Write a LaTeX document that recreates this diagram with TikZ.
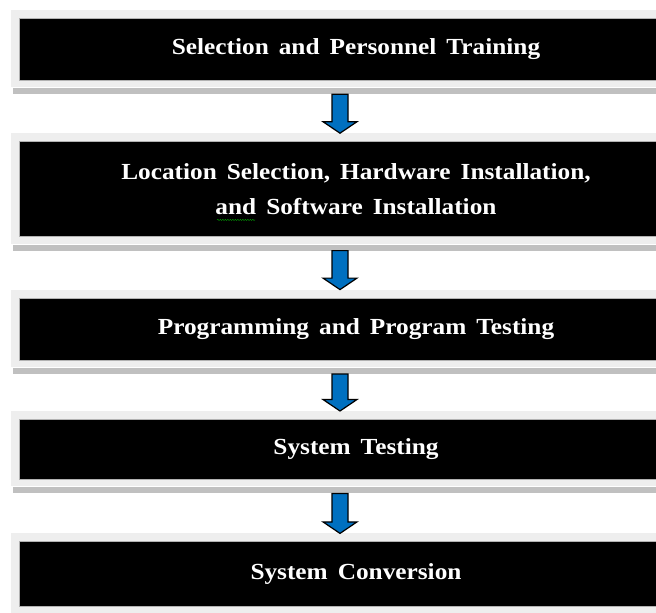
\documentclass[tikz,border=0pt]{standalone}
\usepackage{fontspec}
\setmainfont{Liberation Serif}[FakeStretch=1.1]
\usetikzlibrary{positioning,calc,backgrounds,decorations.pathmorphing}
\definecolor{STAGE-FRAME}{RGB}{238,238,238}
\definecolor{STAGE-SHADOW}{RGB}{192,192,192}
\definecolor{ARROW-BLUE}{RGB}{0,112,192}
\definecolor{SPELL-GREEN}{RGB}{0,150,0}

% bold text with wide gaps between words
\newcommand{\stagefont}{\fontsize{23}{35}\selectfont\bfseries
  \spaceskip=10pt plus 2pt minus 1pt\relax}

\tikzset{
  stage/.style={fill=black, draw=gray!60, thin, text=white, font=\stagefont,
    minimum width=674pt, minimum height=62pt, inner sep=0pt, align=center},
  blockarrow/.style={fill=ARROW-BLUE, draw=black, line width=1.2pt, line join=miter}
}

% grey frame with a darker strip under it
\newcommand{\stageframe}[1]{%
  \fill[STAGE-SHADOW] ([shift={(-6pt,-8pt)}]#1.south west) rectangle ([shift={(0pt,-14pt)}]#1.south east);
  \fill[STAGE-FRAME] ([shift={(-8pt,8pt)}]#1.north west) rectangle ([shift={(8pt,-7pt)}]#1.south east);
}

% fat blue arrow from one stage down to the next
\newcommand{\stagearrow}[2]{%
  \coordinate (#1-out) at ([shift={(-16pt,-14pt)}]#1.south);
  \coordinate (#2-in) at ([shift={(-16pt,8pt)}]#2.north);
  \draw[blockarrow] ([xshift=-8pt]#1-out) -- ([xshift=8pt]#1-out)
    -- ([shift={(8pt,11.5pt)}]#2-in) -- ([shift={(17pt,11.5pt)}]#2-in)
    -- (#2-in) -- ([shift={(-17pt,11.5pt)}]#2-in)
    -- ([shift={(-8pt,11.5pt)}]#2-in) -- cycle;
}

\begin{document}
\begin{tikzpicture}
  \useasboundingbox (0,0) rectangle (656pt,-613pt);

  % the five stages
  \node[stage] (s1) at (356pt,-49pt) {Selection and Personnel Training};
  \node[stage, minimum height=95pt, below=61pt of s1] (s2)
    {Location Selection, Hardware Installation,\\and Software Installation};
  \node[stage, below=61pt of s2] (s3) {Programming and Program Testing};
  \node[stage, minimum height=60pt, below=59pt of s3] (s4) {System Testing};
  \node[stage, minimum height=65pt, below=62pt of s4] (s5) {System Conversion};

  % frames behind the stages
  \begin{scope}[on background layer]
    \stageframe{s1}
    \stageframe{s2}
    \stageframe{s3}
    \stageframe{s4}
    \stageframe{s5}
  \end{scope}

  % arrows between stages
  \stagearrow{s1}{s2}
  \stagearrow{s2}{s3}
  \stagearrow{s3}{s4}
  \stagearrow{s4}{s5}

  % squiggle under "and"
  \draw[SPELL-GREEN, decorate, decoration={snake, amplitude=0.6pt, segment length=2.5pt}]
    ($(s2.center)+(-139pt,-31pt)$) -- ++(38pt,0);
\end{tikzpicture}
\end{document}
